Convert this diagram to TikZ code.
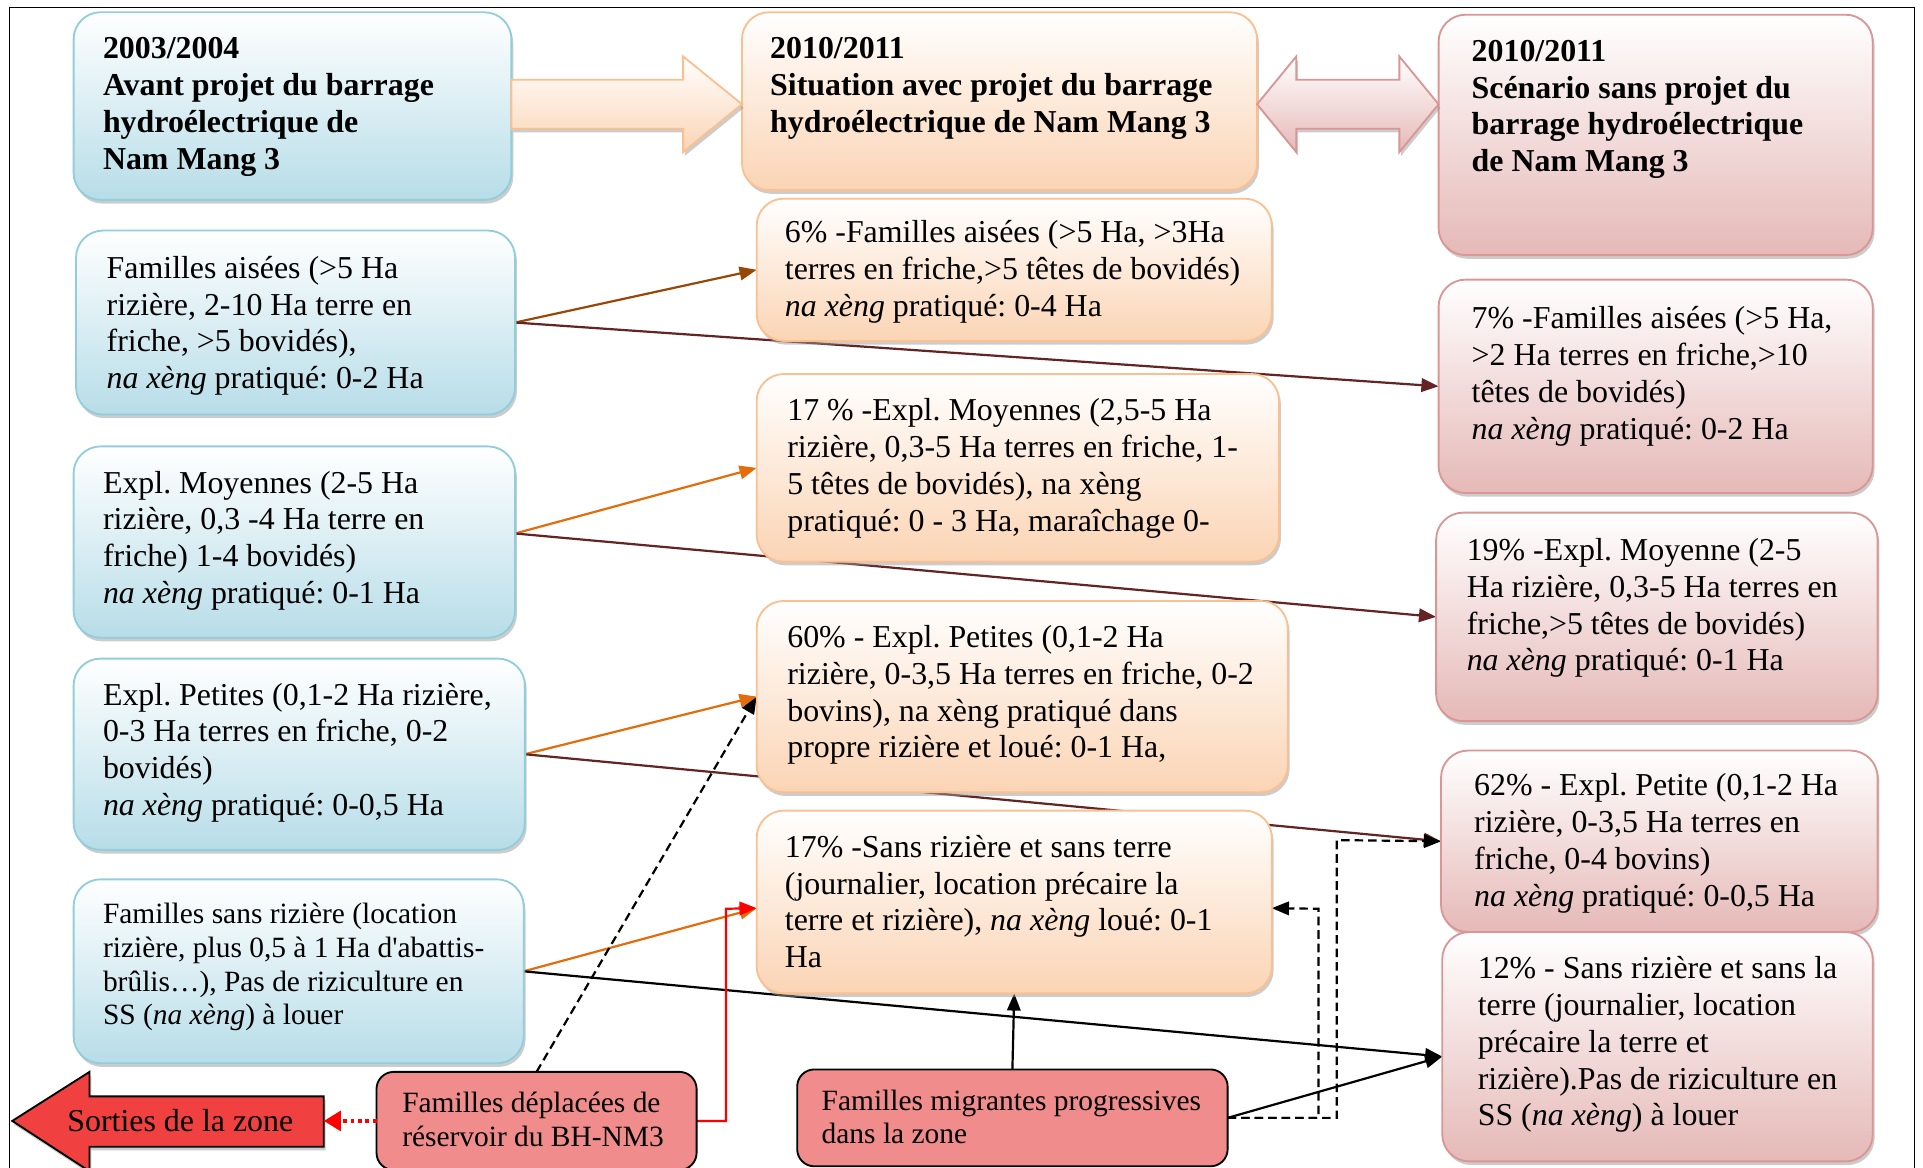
\documentclass[tikz,border=0pt]{standalone}
\usepackage{fontspec}
\setmainfont{Liberation Serif}[Ligatures=TeXOff]
\usetikzlibrary{shadows,arrows.meta}
\definecolor{blueFill}{RGB}{183,221,232}
\definecolor{blueLine}{RGB}{146,205,220}
\definecolor{orangeFill}{RGB}{251,212,180}
\definecolor{orangeLine}{RGB}{250,192,144}
\definecolor{pinkFill}{RGB}{229,185,183}
\definecolor{pinkLine}{RGB}{217,150,148}
\definecolor{redBox}{RGB}{240,140,140}
\definecolor{redArrow}{RGB}{240,64,64}
\definecolor{brownC}{RGB}{152,72,6}
\definecolor{orangeC}{RGB}{228,108,10}
\definecolor{maroonC}{RGB}{99,36,35}
\pgfdeclarelayer{bg}
\pgfsetlayers{bg,main}
\frenchspacing
\newcommand{\bxt}[5]{\parbox[c][#2][t]{#1}{\frenchspacing\vspace*{#4}\hspace*{#3}\begin{tabular}[t]{@{}l@{}}#5\end{tabular}}}
\begin{document}
\begin{tikzpicture}[x=1pt,y=-1pt,
  basebox/.style={anchor=north west, inner sep=0pt, outer sep=0pt, rounded corners=22pt, line width=1.5pt,
    drop shadow={shadow xshift=1.5pt, shadow yshift=-3pt, fill=black!40}, font=\fontsize{26}{30}\selectfont},
  hdr/.style={font=\fontsize{26}{30}\selectfont\bfseries},
  small/.style={font=\fontsize{24}{27.5}\selectfont},
  bluebox/.style={basebox, draw=blueLine, top color=white, bottom color=blueFill},
  orangebox/.style={basebox, draw=orangeLine, top color=white, bottom color=orangeFill},
  pinkbox/.style={basebox, draw=pinkLine, top color=white, bottom color=pinkFill},
  redbox/.style={anchor=north west, inner sep=0pt, outer sep=0pt, rounded corners=14pt, draw=black, line width=1.5pt,
    fill=redBox, font=\fontsize{24}{27.5}\selectfont},
  conn/.style={line width=1.8pt, -{Triangle[length=14pt,width=11pt]}},
  dashconn/.style={conn, black, dash pattern=on 7pt off 4pt},
  reddot/.style={draw=red, line width=3.5pt, dash pattern=on 3pt off 3pt, -{Triangle[length=14pt,width=16pt]}, red},
  blockarrow/.style={line width=1.5pt, drop shadow={shadow xshift=1.5pt, shadow yshift=-3pt, fill=black!40}}
]
\useasboundingbox (0,0) rectangle (1568,952);
\clip (0,0) rectangle (1568,952);
\draw[line width=1pt] (8,6) rectangle (1561,990);

% ---------- left column ----------
\node[bluebox, hdr] (B0) at (60,10) {\bxt{357pt}{153pt}{24pt}{17pt}{2003/2004\\Avant projet du barrage\\hydroélectrique de\\Nam Mang 3}};
\node[bluebox] (B1) at (62,188) {\bxt{358pt}{150pt}{25pt}{18pt}{Familles aisées (>5 Ha\\rizière, 2-10 Ha terre en\\friche, >5 bovidés),\\\textit{na xèng} pratiqué: 0-2 Ha}};
\node[bluebox] (B2) at (60,364) {\bxt{360pt}{156pt}{24pt}{17pt}{Expl. Moyennes (2-5 Ha\\rizière, 0,3 -4 Ha terre en\\friche) 1-4 bovidés)\\\textit{na xèng} pratiqué: 0-1 Ha}};
\node[bluebox] (B3) at (60,537) {\bxt{368pt}{156pt}{24pt}{17pt}{Expl. Petites (0,1-2 Ha rizière,\\0-3 Ha terres en friche, 0-2\\bovidés)\\\textit{na xèng} pratiqué: 0-0,5 Ha}};
\node[bluebox, small] (B4) at (60,717) {\bxt{367pt}{150pt}{24pt}{17pt}{Familles sans rizière (location\\rizière, plus 0,5 à 1 Ha d'abattis-\\brûlis…), Pas de riziculture en\\SS (\textit{na xèng}) à louer}};

% ---------- middle column ----------
\node[orangebox, hdr] (O0) at (605,10) {\bxt{420pt}{145pt}{23pt}{17pt}{2010/2011\\Situation avec projet du barrage\\hydroélectrique de Nam Mang 3}};
\node[orangebox] (O1) at (617,162) {\bxt{420pt}{116pt}{23pt}{15pt}{6\% -Familles aisées (>5 Ha, >3Ha\\terres en friche,>5 têtes de bovidés)\\\textit{na xèng} pratiqué: 0-4 Ha}};
\node[orangebox] (O2) at (617,305) {\bxt{426pt}{153pt}{25pt}{17pt}{17 \% -Expl. Moyennes (2,5-5 Ha\\rizière, 0,3-5 Ha terres en friche, 1-\\5 têtes de bovidés), na xèng\\pratiqué: 0 - 3 Ha, maraîchage 0-}};
\node[orangebox] (O3) at (617,490) {\bxt{433pt}{156pt}{25pt}{17pt}{60\% - Expl. Petites (0,1-2 Ha\\rizière, 0-3,5 Ha terres en friche, 0-2\\bovins), na xèng pratiqué dans\\propre rizière et loué: 0-1 Ha,}};
\node[orangebox] (O4) at (617,661) {\bxt{420pt}{149pt}{23pt}{17pt}{17\% -Sans rizière et sans terre\\(journalier, location précaire la\\terre et rizière), \textit{na xèng} loué: 0-1\\Ha}};

% ---------- right column ----------
\node[pinkbox, hdr] (P0) at (1173,12) {\bxt{354pt}{196pt}{27pt}{17pt}{2010/2011\\Scénario sans projet du\\barrage hydroélectrique\\de Nam Mang 3}};
\node[pinkbox] (P1) at (1173,228) {\bxt{354pt}{174pt}{27pt}{19pt}{7\% -Familles aisées (>5 Ha,\\>2 Ha terres en friche,>10\\têtes de bovidés)\\\textit{na xèng} pratiqué: 0-2 Ha}};
\node[pinkbox] (P2) at (1171,418) {\bxt{360pt}{170pt}{25pt}{18pt}{19\% -Expl. Moyenne (2-5\\Ha rizière, 0,3-5 Ha terres en\\friche,>5 têtes de bovidés)\\\textit{na xèng} pratiqué: 0-1 Ha}};
\node[pinkbox] (P3) at (1175,612) {\bxt{356pt}{148pt}{27pt}{16pt}{62\% - Expl. Petite (0,1-2 Ha\\rizière, 0-3,5 Ha terres en\\friche, 0-4 bovins)\\\textit{na xèng} pratiqué: 0-0,5 Ha}};
\node[pinkbox] (P4) at (1176,760) {\bxt{351pt}{187pt}{29pt}{17pt}{12\% - Sans rizière et sans la\\terre (journalier, location\\précaire la terre et\\rizière).Pas de riziculture en\\SS (\textit{na xèng}) à louer}};

% ---------- bottom red elements ----------
\node[redbox] (R1) at (307,874) {\bxt{261pt}{80pt}{21pt}{14pt}{Familles déplacées de\\réservoir du BH-NM3}};
\node[redbox] (R2) at (650,872) {\bxt{351pt}{79pt}{20pt}{14pt}{Familles migrantes progressives\\dans la zone}};

\draw[blockarrow, draw=black, fill=redArrow] (10,914) -- (73,874) -- (73,894) -- (264,894) -- (264,935) -- (73,935) -- (73,955) -- cycle;
\node[font=\fontsize{26}{30}\selectfont, inner sep=0pt] (S) at (147,914) {Sorties de la zone};
\coordinate (Send) at (264,914);

% ---------- block arrows between headers ----------
\draw[blockarrow, draw=orangeLine, top color=white, bottom color=orangeFill]
  (B0.east |- 0,65) -- (557,65) -- (557,46) -- (O0.west |- 0,85) -- (557,124) -- (557,105) -- (B0.east |- 0,105) -- cycle;
\draw[blockarrow, draw=pinkLine, top color=white, bottom color=pinkFill]
  (O0.east |- 0,85) -- (1057,46) -- (1057,65) -- (1141,65) -- (1141,46) -- (P0.west |- 0,85) -- (1141,124) -- (1141,105) -- (1057,105) -- (1057,124) -- cycle;

% ---------- connectors ----------
\coordinate (c1) at (592,741);
\coordinate (d1) at (1075,741);
\coordinate (d2) at (1090,685);
\begin{pgfonlayer}{bg}
\draw[conn, brownC] (B1.east) -- (O1.west);
\draw[conn, maroonC] (B1.east) -- (P1.west);
\draw[conn, orangeC] ([yshift=7pt]B2.east) -- (O2.west);
\draw[conn, maroonC] ([yshift=7pt]B2.east) -- (P2.west);
\draw[conn, orangeC] (B3.east) -- (O3.west);
\draw[conn, maroonC] (B3.east) -- (P3.west);
\draw[conn, orangeC] (B4.east) -- ([yshift=-5pt]O4.west);
\draw[conn, black] (B4.east) -- ([yshift=-8pt]P4.west);
\draw[dashconn] (R1.north) -- (O3.west);
\draw[conn, red] (R1.east) -| (c1) -- ([yshift=-5pt]O4.west);
\draw[conn, black] (R2.north) -- (O4.south);
\draw[conn, black] (R2.east) -- ([yshift=-8pt]P4.west);
\draw[dashconn] (R2.east) -| (d1) -- ([yshift=-5pt]O4.east);
\draw[dashconn] (R2.east) -| (d2) -- (P3.west);
\end{pgfonlayer}
\draw[reddot] (R1.west) -- (Send);
\end{tikzpicture}
\end{document}
